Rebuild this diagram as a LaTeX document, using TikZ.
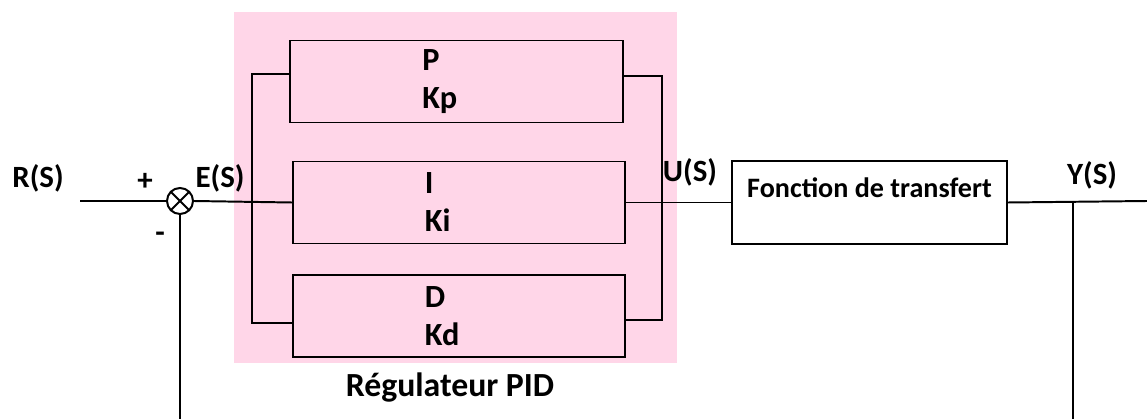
\documentclass[tikz,border=0pt]{standalone}
\usepackage{fontspec}
\setmainfont{Carlito}
\usepackage{tikz}
\usetikzlibrary{positioning}
\definecolor{pidpink}{RGB}{255,214,232}

\begin{document}
\begin{tikzpicture}[
    x=0.025cm, y=-0.025cm,
    font=\fontsize{22}{27}\selectfont\bfseries,
    line width=1.4pt,
    gain/.style={draw, minimum width=8.3cm, minimum height=2.05cm,
        text width=1.7cm, align=left,
        font=\fontsize{23}{27}\selectfont\bfseries},
    plant/.style={draw, minimum width=6.875cm, minimum height=2.075cm,
        text height=0.45cm, text depth=0.68cm,
        font=\fontsize{20}{24}\selectfont\bfseries},
    summer/.style={draw, circle, minimum size=0.65cm, inner sep=0pt,
        path picture={
            \draw (path picture bounding box.north west) -- (path picture bounding box.south east);
            \draw (path picture bounding box.south west) -- (path picture bounding box.north east);}},
    pidbg/.style={fill=pidpink, minimum width=11.075cm, minimum height=8.775cm, inner sep=0pt},
    lbl/.style={inner sep=0pt}
]
\useasboundingbox (0,0) rectangle (1147,419);

% PID area
\node[pidbg] (pid) at (455.5,187.5) {};
\node[lbl, font=\fontsize{24}{28}\selectfont\bfseries] (pidname) at (450,388) {Régulateur PID};

% Blocks
\node[gain] (kp) at (456.5,81.5) {P\\Kp};
\node[gain] (ki) at (459,202.5) {I\\Ki};
\node[gain] (kd) at (459,316) {D\\Kd};
\node[plant] (tf) at (869.5,202.5) {Fonction de transfert};
\node[summer] (sum) at (180,201) {};

% Points on the lines
\coordinate (rin) at (80,201);
\coordinate (busL) at (252,201);
\coordinate (busR) at (662,201);
\coordinate (ytap) at (1073,201);
\coordinate (yout) at (1147,201);
\coordinate (fbL) at (180,419);
\coordinate (fbR) at (1073,419);

% Signal labels
\node[lbl] (rs) at (38,178) {R(S)};
\node[lbl] (plus) at (145,182) {+};
\node[lbl] (minus) at (160,237) {-};
\node[lbl] (es) at (220,178) {E(S)};
\node[lbl] (us) at (690,172) {U(S)};
\node[lbl] (ys) at (1092,175) {Y(S)};

% Main path
\draw (rin) -- (sum.west);
\draw (sum.east) -- (ki.west);
\draw (ki.east) -- (tf.west);
\draw (tf.east) -- (yout);

% Parallel branches
\draw ([yshift=0.19cm]kp.west) -| (busL) |- ([yshift=-0.18cm]kd.west);
\draw ([yshift=0.14cm]kp.east) -| (busR) |- ([yshift=-0.1cm]kd.east);

% Feedback
\draw (ytap) -- (fbR);
\draw (sum.south) -- (fbL);

\end{tikzpicture}
\end{document}
